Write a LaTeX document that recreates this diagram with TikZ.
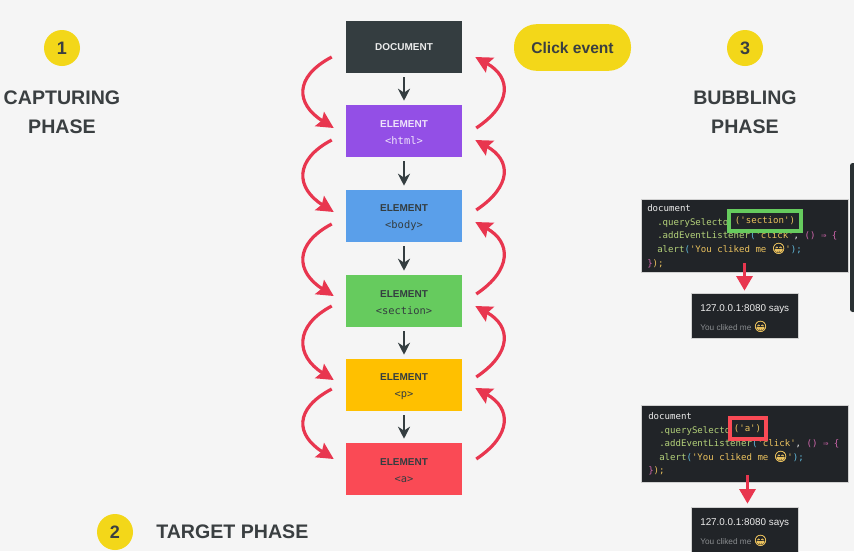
\documentclass[tikz,border=0pt]{standalone}
\usepackage{fontspec}
\setmainfont{Liberation Sans}
\newfontfamily\codefont{DejaVu Sans Mono}
\newfontfamily\emojifont[FakeBold=2.5]{Noto Emoji}
\usetikzlibrary{calc,arrows.meta}
\definecolor{bgc}{HTML}{F5F5F5}
\definecolor{inkc}{HTML}{3A3F41}
\definecolor{yel}{HTML}{F3D719}
\definecolor{slatec}{HTML}{343D40}
\definecolor{purp}{HTML}{934FE6}
\definecolor{bluec}{HTML}{5A9FEA}
\definecolor{greenc}{HTML}{66CB5E}
\definecolor{ambc}{HTML}{FFC000}
\definecolor{redc}{HTML}{FA4A55}
\definecolor{arrc}{HTML}{E8364F}
\definecolor{panelc}{HTML}{212428}
\definecolor{cgreen}{HTML}{B4D27A}
\definecolor{cyelw}{HTML}{EBC25E}
\definecolor{cpink}{HTML}{D066AC}
\definecolor{cblue}{HTML}{62BBDD}
\definecolor{cwhite}{HTML}{EDEDED}
\definecolor{cgrey}{HTML}{8A8D90}
\tikzset{
  x=0.75pt,y=-0.75pt,
  flowbox/.style={minimum width=87pt,minimum height=39pt,inner sep=0pt,align=center,text=#1,font=\fontsize{7.5pt}{13pt}\selectfont\bfseries},
  badge/.style={circle,fill=yel,minimum size=27pt,inner sep=0pt,text=inkc,font=\fontsize{13.5pt}{15pt}\selectfont\bfseries},
  heading/.style={text=inkc,align=center,inner sep=0pt,font=\fontsize{14.7pt}{21.7pt}\selectfont\bfseries},
  downarrow/.style={draw=slatec,line width=1.7pt,-{Stealth[length=9pt,width=9pt]},shorten >=3pt,shorten <=3pt},
  curvearrow/.style={draw=arrc,line width=2.4pt,-{Stealth[length=12.5pt,width=12.5pt,inset=2pt]}},
  panel/.style={fill=panelc,draw=black!15!bgc,line width=0.5pt,inner sep=0pt},
  codeline/.style={anchor=base west,inner sep=0pt,font=\codefont\fontsize{6.8pt}{8pt}\selectfont},
  alerttitle/.style={anchor=base west,inner sep=0pt,text=cwhite,font=\fontsize{7.4pt}{8pt}\selectfont},
  alertbody/.style={anchor=base west,inner sep=0pt,text=cgrey,font=\fontsize{6.2pt}{8pt}\selectfont},
  pointer/.style={draw=arrc,line width=2.4pt,-{Stealth[length=11pt,width=12pt,inset=0pt]}},
}
\newcommand{\grin}{{\emojifont\fontsize{8pt}{8pt}\selectfont\textcolor{cyelw}{\symbol{"1F601}}}}
\newcommand{\mkp}[1]{{\codefont\mdseries\fontsize{7.8pt}{8pt}\selectfont #1}}
\newcommand{\elem}[1]{\rule{0pt}{7.5pt}ELEMENT\\\mkp{#1}}
\begin{document}
\begin{tikzpicture}
\useasboundingbox (0,0) rectangle (854,551);
\fill[bgc] (0,0) rectangle (854,551);
\fill[slatec!80!black,rounded corners=2pt] (850,163) rectangle (856,312);

\node[flowbox=white!90!slatec,fill=slatec] (doc) at (404,47) {DOCUMENT};
\node[flowbox=white!85!purp,fill=purp] (html) at (404,131) {\elem{<html>}};
\node[flowbox=slatec,fill=bluec] (body) at (404,216) {\elem{<body>}};
\node[flowbox=slatec,fill=greenc] (section) at (404,301) {\elem{<section>}};
\node[flowbox=slatec,fill=ambc] (p) at (404,385) {\elem{<p>}};
\node[flowbox=slatec,fill=redc] (a) at (404,469) {\elem{<a>}};

\foreach \u/\v in {doc/html,html/body,body/section,section/p,p/a}
  \draw[downarrow] (\u) -- (\v);

% capturing (left) arcs: start offset from upper box, end offset from lower box
\foreach \u/\v/\sy/\ey in {doc/html/10/-3,html/body/9/-4,body/section/8/-5,section/p/5/-5,p/a/4/-10}
  \draw[curvearrow] ($(\u.west)+(-14,\sy)$) .. controls +(-38,20) and +(-38,-24) .. ($(\v.west)+(-12,\ey)$);
% bubbling (right) arcs
\foreach \u/\v/\sy/\ey in {html/doc/-3/10,body/html/-6/9,section/body/-7/6,p/section/-8/5,a/p/-10/3}
  \draw[curvearrow] ($(\u.east)+(14,\sy)$) .. controls +(36,-24) and +(36,20) .. ($(\v.east)+(13,\ey)$);

\node[badge] (b1) at (62,48) {1};
\node[badge] (b2) at (115,532) {2};
\node[badge] (b3) at (745,48) {3};
\node[heading] (capt) at (62,112) {CAPTURING\\PHASE};
\node[heading] (bubb) at (745,112) {BUBBLING\\PHASE};
\node[heading,anchor=west] (targ) at (156,532) {TARGET PHASE};
\node[fill=yel,rounded corners=17pt,minimum width=87.75pt,minimum height=35pt,inner sep=0pt,text=inkc,font=\fontsize{11.7pt}{14pt}\selectfont\bfseries] (click) at (572.5,47.5) {Click event};

% first code sample
\node[panel,minimum width=155.25pt,minimum height=54.75pt] (code1) at (744.5,235.5) {};
\node[codeline,text=cwhite] (c1a) at (647,211) {document};
\node[codeline] (c1b) at (657,225) {\textcolor{cgreen}{.querySelecto}};
\node[codeline] (c1c) at (657,238) {\textcolor{cgreen}{.addEventListener}\textcolor{cblue}{(}\textcolor{cyelw}{'click'}\textcolor{cwhite}{,} \textcolor{cpink}{() ⇒ \{}};
\node[codeline] (c1d) at (657,252) {\textcolor{cgreen}{alert}\textcolor{cblue}{(}\textcolor{cyelw}{'You cliked me }\grin\textcolor{cyelw}{'}\textcolor{cblue}{);}};
\node[codeline] (c1e) at (647,266) {\textcolor{cpink}{\}}\textcolor{cyelw}{);}};
\node[fill=panelc,draw=greenc,line width=3pt,minimum width=54pt,minimum height=15.5pt,inner sep=0pt,font=\codefont\fontsize{6.8pt}{8pt}\selectfont] (hl1) at (765,221) {\textcolor{cyelw}{('section')}};
\node[panel,minimum width=80pt,minimum height=33.75pt] (alert1) at (744.5,315.5) {};
\node[alerttitle] (t1) at (700,311) {127.0.0.1:8080 says};
\node[alertbody] (m1) at (700,330) {You cliked me \grin};
\draw[pointer] ($(code1.south)+(0,-9)$) -- ($(alert1.north)+(0,-2)$);

% second code sample
\node[panel,minimum width=155.25pt,minimum height=57.75pt] (code2) at (744.5,443.5) {};
\node[codeline,text=cwhite] (c2a) at (648,419) {document};
\node[codeline] (c2b) at (659,433) {\textcolor{cgreen}{.querySelecto}};
\node[codeline] (c2c) at (659,446) {\textcolor{cgreen}{.addEventListener}\textcolor{cblue}{(}\textcolor{cyelw}{'click'}\textcolor{cwhite}{,} \textcolor{cpink}{() ⇒ \{}};
\node[codeline] (c2d) at (659,460) {\textcolor{cgreen}{alert}\textcolor{cblue}{(}\textcolor{cyelw}{'You cliked me }\grin\textcolor{cyelw}{'}\textcolor{cblue}{);}};
\node[codeline] (c2e) at (648,473) {\textcolor{cpink}{\}}\textcolor{cyelw}{);}};
\node[fill=panelc,draw=redc,line width=3pt,minimum width=27pt,minimum height=15.5pt,inner sep=0pt,font=\codefont\fontsize{6.8pt}{8pt}\selectfont] (hl2) at (747.5,428.5) {\textcolor{cyelw}{('a')}};
\node[panel,minimum width=80pt,minimum height=33.75pt] (alert2) at (744.5,529.5) {};
\node[alerttitle] (t2) at (700,525) {127.0.0.1:8080 says};
\node[alertbody] (m2) at (700,544) {You cliked me \grin};
\draw[pointer] ($(code2.south)+(3,-7)$) -- ($(alert2.north)+(3,-3)$);
\end{tikzpicture}
\end{document}
